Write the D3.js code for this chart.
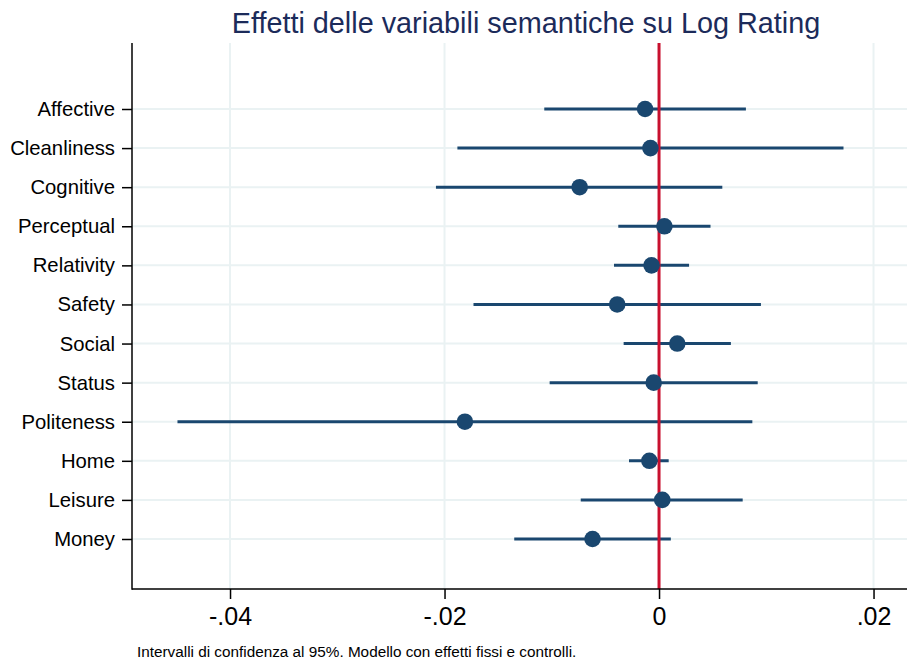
<!DOCTYPE html>
<html>
<head>
<meta charset="utf-8">
<script src="https://cdn.jsdelivr.net/npm/d3@7"></script>
<style>
  html, body { margin: 0; padding: 0; background: #ffffff; }
  svg { display: block; }
</style>
</head>
<body>
<svg id="chart" width="907" height="662"></svg>
<script>
// Coefficient estimates with 95% confidence intervals
const variables = ["Affective", "Cleanliness", "Cognitive", "Perceptual", "Relativity", "Safety",
                   "Social", "Status", "Politeness", "Home", "Leisure", "Money"];
const estimates = [-0.0013, -0.0008, -0.0074, 0.0005, -0.0007, -0.0039,
                    0.0017, -0.0005, -0.0181, -0.0009, 0.0003, -0.0062];
const ciLower   = [-0.0107, -0.0188, -0.0208, -0.0038, -0.0042, -0.0173,
                   -0.0033, -0.0102, -0.0449, -0.0028, -0.0073, -0.0135];
const ciUpper   = [ 0.0081, 0.0172, 0.0059, 0.0048, 0.0028, 0.0095,
                    0.0067, 0.0092, 0.0087, 0.0009, 0.0078, 0.0011];
const xTicks = [-0.04, -0.02, 0, 0.02];
const xTickLabels = ["-.04", "-.02", "0", ".02"];

const rows = variables.map((name, i) => ({ name, b: estimates[i], lo: ciLower[i], hi: ciUpper[i] }));

const svg = d3.select("#chart");
const plot = { left: 132, right: 907, top: 43, bottom: 589 };
const font = "'Liberation Sans', Arial, Helvetica, sans-serif";

const x = d3.scaleLinear().domain([-0.04914, 0.02312]).range([plot.left, plot.right]);
const y = d3.scalePoint().domain(variables).range([109, 539]);

// Grid lines
const grid = svg.append("g");
grid.selectAll("line.h").data(variables).join("line")
  .attr("x1", plot.left).attr("x2", plot.right)
  .attr("y1", d => y(d)).attr("y2", d => y(d))
  .attr("stroke", "#eaf2f3").attr("stroke-width", 2);
grid.selectAll("line.v").data(xTicks.filter(t => t !== 0)).join("line")
  .attr("x1", d => x(d)).attr("x2", d => x(d))
  .attr("y1", plot.top).attr("y2", plot.bottom)
  .attr("stroke", "#eaf2f3").attr("stroke-width", 2);

// Confidence intervals
svg.append("g").selectAll("line").data(rows).join("line")
  .attr("x1", d => x(d.lo)).attr("x2", d => x(d.hi))
  .attr("y1", d => y(d.name)).attr("y2", d => y(d.name))
  .attr("stroke", "#1a476f").attr("stroke-width", 3);

// Reference line at zero
svg.append("line")
  .attr("x1", x(0)).attr("x2", x(0))
  .attr("y1", plot.top).attr("y2", plot.bottom)
  .attr("stroke", "#c8102e").attr("stroke-width", 3);

// Point estimates
svg.append("g").selectAll("circle").data(rows).join("circle")
  .attr("cx", d => x(d.b)).attr("cy", d => y(d.name))
  .attr("r", 8.3).attr("fill", "#1a476f");

// Y axis
const yAxis = svg.append("g").attr("transform", `translate(${plot.left},0)`)
  .call(d3.axisLeft(y).tickSize(10).tickPadding(7));
yAxis.select(".domain").remove();
yAxis.selectAll(".tick line").attr("stroke", "#000").attr("stroke-width", 1.5);
yAxis.selectAll(".tick text").attr("font-family", font).attr("font-size", 20.3).attr("fill", "#000");
svg.append("line").attr("x1", plot.left).attr("x2", plot.left)
  .attr("y1", plot.top).attr("y2", plot.bottom + 0.75)
  .attr("stroke", "#000").attr("stroke-width", 1.5);

// X axis
const xAxis = svg.append("g").attr("transform", `translate(0,${plot.bottom})`)
  .call(d3.axisBottom(x).tickValues(xTicks).tickFormat((d, i) => xTickLabels[i]).tickSize(10).tickPadding(8));
xAxis.select(".domain").remove();
xAxis.selectAll(".tick line").attr("stroke", "#000").attr("stroke-width", 1.5);
xAxis.selectAll(".tick text").attr("font-family", font).attr("font-size", 25).attr("fill", "#000");
svg.append("line").attr("x1", plot.left).attr("x2", plot.right)
  .attr("y1", plot.bottom).attr("y2", plot.bottom)
  .attr("stroke", "#000").attr("stroke-width", 1.5);

// Title
svg.append("text").attr("x", 526).attr("y", 33).attr("text-anchor", "middle")
  .attr("font-family", font).attr("font-size", 28.8).attr("fill", "#1c2b5a")
  .text("Effetti delle variabili semantiche su Log Rating");

// Note
svg.append("text").attr("x", 137).attr("y", 657)
  .attr("font-family", font).attr("font-size", 15.3).attr("fill", "#000")
  .text("Intervalli di confidenza al 95%. Modello con effetti fissi e controlli.");
</script>
</body>
</html>
